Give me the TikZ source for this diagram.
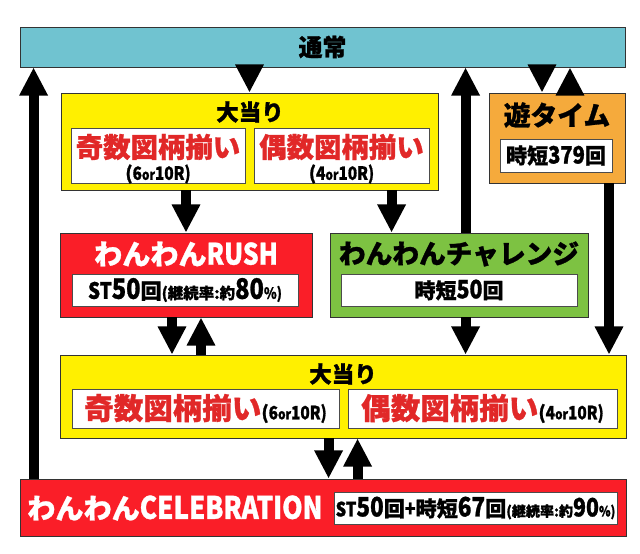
\documentclass[tikz,border=0pt]{standalone}
\usepackage{fontspec}
\IfFontExistsTF{Noto Sans CJK JP Black}{%
  \setmainfont{Noto Sans CJK JP}[BoldFont={Noto Sans CJK JP Black}, BoldFeatures={FakeBold=1}]
  \newfontfamily\cnd{Noto Sans CJK JP Black}[BoldFont={Noto Sans CJK JP Black}, FakeStretch=0.84, FakeBold=1]
}{%
  \setmainfont{Noto Sans CJK JP}[BoldFont={Noto Sans CJK JP Bold}, BoldFeatures={FakeBold=1.5}]
  \newfontfamily\cnd{Noto Sans CJK JP Bold}[BoldFont={Noto Sans CJK JP Bold}, FakeStretch=0.84, FakeBold=1.5]
}
\usetikzlibrary{arrows.meta, positioning, calc}

\definecolor{tsujocyan}{RGB}{112,195,208}
\definecolor{oatariyellow}{RGB}{255,240,0}
\definecolor{rushred}{RGB}{250,30,40}
\definecolor{challgreen}{RGB}{125,194,66}
\definecolor{asobiorange}{RGB}{245,170,60}
\definecolor{zuredtext}{RGB}{225,40,40}

\newcommand{\setfs}[1]{\fontsize{#1}{#1}\selectfont}

\begin{document}
\begin{tikzpicture}[
    x=0.025cm, y=-0.025cm,
    font=\bfseries,
    % estilos de cajas
    boxsize/.style 2 args={minimum width=#1*0.025cm, minimum height=#2*0.025cm},
    panel/.style={rectangle, draw=black!80, line width=0.6pt, inner sep=0pt},
    whitebox/.style={rectangle, draw=black!70, fill=white, line width=0.6pt, inner sep=0pt, align=center},
    titletext/.style={inner sep=0pt, font=\bfseries\setfs{16pt}},
    zutext/.style={inner sep=0pt, text=zuredtext, font=\bfseries\setfs{19.5pt}},
    fatarrow/.style={line width=7.1pt, -{Triangle[width=19pt, length=20pt]}}
]
\useasboundingbox (0,0) rectangle (640,554);

% -------------------------
% 通常
% -------------------------
\node[panel, fill=tsujocyan, boxsize={605}{40}, font=\bfseries\setfs{17pt}] (tsujo) at (322.5,47) {通常};

% -------------------------
% 大当り (arriba)
% -------------------------
\node[panel, fill=oatariyellow, boxsize={377}{97}] (oatari1) at (249.5,141.5) {};
\node[titletext] (oatari1t) at (250,112) {大当り};
\node[whitebox, boxsize={174}{55}] (kisu1) at (158,155.5) {};
\node[zutext] (kisu1t) at (158,147) {奇数図柄揃い};
\node[inner sep=0pt, font=\bfseries\setfs{13pt}] (kisu1r) at (158,174) {(\cnd 6{\setfs{10pt}or}10R)};
\node[whitebox, boxsize={175}{55}] (gusu1) at (341.5,155.5) {};
\node[zutext] (gusu1t) at (341.5,147) {偶数図柄揃い};
\node[inner sep=0pt, font=\bfseries\setfs{13pt}] (gusu1r) at (341.5,174) {(\cnd 4{\setfs{10pt}or}10R)};

% -------------------------
% 遊タイム
% -------------------------
\node[panel, fill=asobiorange, boxsize={136}{90}] (asobi) at (557,138) {};
\node[inner sep=0pt, font=\bfseries\setfs{19pt}] (asobit) at (557,115) {遊タイム};
\node[whitebox, boxsize={112}{33}, font=\bfseries\setfs{15pt}] (asobin) at (556,155.5) {時短{\cnd\setfs{17pt}379}回};

% -------------------------
% わんわんRUSH / チャレンジ
% -------------------------
\node[panel, fill=rushred, boxsize={252}{84}] (rush) at (186,275) {};
\node[inner sep=0pt, text=white, font=\bfseries\setfs{20pt}] (rusht) at (186,254) {わんわん{\cnd\setfs{21pt}RUSH}};
\node[whitebox, boxsize={226}{32}] (rushn) at (185,290) {{\cnd\setfs{16pt}ST}{\cnd\setfs{20pt}50}{\setfs{15pt}回}{\setfs{11pt}(継続率:約}{\cnd\setfs{20pt}80}{\cnd\setfs{11pt}\%)}};

\node[panel, fill=challgreen, boxsize={258}{84}] (chall) at (459,275) {};
\node[inner sep=0pt, font=\bfseries\setfs{19pt}] (challt) at (459,254) {わんわんチャレンジ};
\node[whitebox, boxsize={236}{32}, font=\bfseries\setfs{15pt}] (challn) at (459,290) {時短{\cnd\setfs{18pt}50}回};

% -------------------------
% 大当り (abajo)
% -------------------------
\node[panel, fill=oatariyellow, boxsize={566}{83}] (oatari2) at (343,396.5) {};
\node[titletext] (oatari2t) at (343,374) {大当り};
\node[whitebox, boxsize={267}{39}] (kisu2) at (205.5,408.5) {\textcolor{zuredtext}{\setfs{21pt}奇数図柄揃い}{\setfs{13pt}(\cnd 6{\setfs{10pt}or}10R)}};
\node[whitebox, boxsize={269}{39}] (gusu2) at (482.5,408.5) {\textcolor{zuredtext}{\setfs{21pt}偶数図柄揃い}{\setfs{13pt}(\cnd 4{\setfs{10pt}or}10R)}};

% -------------------------
% わんわんCELEBRATION
% -------------------------
\node[panel, fill=rushred, boxsize={606}{57}] (celeb) at (323,507.5) {};
\node[inner sep=0pt, anchor=west, text=white, font=\bfseries\setfs{20pt}] (celebt) at (27,508) {わんわん{\cnd\setfs{22pt}CELEBRATION}};
\node[whitebox, boxsize={283}{32}] (celebn) at (475.5,508) {{\cnd\setfs{14pt}ST}{\cnd\setfs{19pt}50}{\setfs{15pt}回}{\cnd\setfs{15pt}+}{\setfs{15pt}時短}{\cnd\setfs{19pt}67}{\setfs{15pt}回}{\setfs{10pt}(継続率:約}{\cnd\setfs{18pt}90}{\cnd\setfs{10pt}\%)}};

% -------------------------
% flechas
% -------------------------
\draw[fatarrow] (oatari1.north |- tsujo.south) -- (oatari1.north);
\draw[fatarrow] ($(asobi.north)+(-15,0)$) coordinate (a1) (a1 |- tsujo.south) -- (a1);
\draw[fatarrow] ($(asobi.north)+(13,0)$) coordinate (a2) -- (a2 |- tsujo.south);
\draw[fatarrow] ($(celeb.north west)+(14,0)$) coordinate (c1) -- (c1 |- tsujo.south);
\draw[fatarrow] ($(chall.north west)+(136,0)$) coordinate (h1) -- (h1 |- tsujo.south);

\draw[fatarrow] (rush.north |- oatari1.south) -- (rush.north);
\draw[fatarrow] ($(chall.north west)+(62,0)$) coordinate (h2) (h2 |- oatari1.south) -- (h2);

\draw[fatarrow] ($(rush.south)+(-14,0)$) coordinate (r1) -- (r1 |- oatari2.north);
\draw[fatarrow] ($(rush.south)+(15,0)$) coordinate (r2) (r2 |- oatari2.north) -- (r2);
\draw[fatarrow] (h1 |- chall.south) -- (h1 |- oatari2.north);
\draw[fatarrow] ($(asobi.south)+(52,0)$) coordinate (a3) -- (a3 |- oatari2.north);

\draw[fatarrow] ($(celeb.north west)+(309,0)$) coordinate (c2) (c2 |- oatari2.south) -- (c2);
\draw[fatarrow] ($(celeb.north west)+(338,0)$) coordinate (c3) -- (c3 |- oatari2.south);

\end{tikzpicture}
\end{document}
